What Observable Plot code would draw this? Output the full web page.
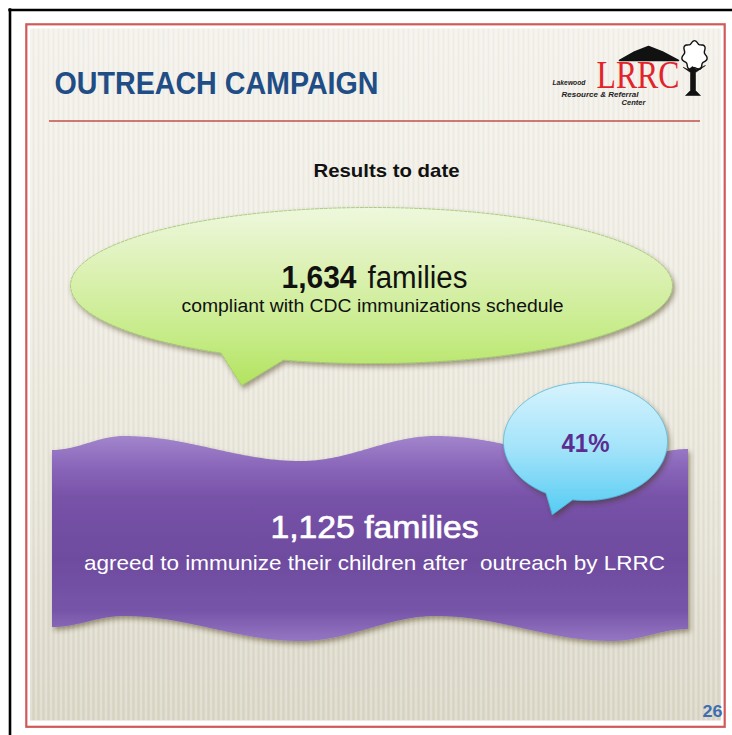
<!DOCTYPE html>
<html>
<head>
<meta charset="utf-8">
<script src="https://cdn.jsdelivr.net/npm/d3@7"></script>
<script src="https://cdn.jsdelivr.net/npm/@observablehq/plot@0.6"></script>
<style>
  html, body { margin: 0; padding: 0; background: #ffffff; }
  #chart svg { display: block; }
</style>
</head>
<body>
<div id="chart"></div>
<script>
// ---------- content (data) ----------
const slideTitle = ["OUTREACH CAMPAIGN"];
const sectionLabel = ["Results to date"];
const familyCounts = [1634, 1125];
const countUnits = ["families", "families"];
const countDescriptions = [
  "compliant with CDC immunizations schedule",
  "agreed to immunize their children after  outreach by LRRC"
];
const outreachSharePct = [41];
const pageNumber = ["26"];
const logoAcronym = ["LRRC"];
const logoWords = ["Lakewood", "Resource & Referral", "Center"];

// ---------- layout (geometry & style, not data) ----------
const W = 732, H = 735;
const fmt = d3.format(",");
const SANS = "'Liberation Sans', Arial, sans-serif";
const L = {
  blackFrame: 9.5,
  red: {x1: 26.3, x2: 724.7, y1: 24.3, y2: 726.8},
  slide: {x1: 30, x2: 721, y1: 28.5, y2: 720.5},
  rule: {x1: 49, x2: 700, y: 120.5},
  title: {x: 54, y: 93, size: 32, len: 324},
  section: {x: 386, y: 176, size: 19, len: 146},
  green: {cx: 371, cy: 285, rx: 301, ry: 78, a0: 107, a1: 120, tip: [241, 385]},
  blue: {cx: 585, cy: 441, rx: 82, ry: 59, a0: 99, a1: 119, tip: [552, 514]},
  waveTop: [[52,450],[124,436],[301,461],[436,436],[612,461],[688,449]],
  waveBottom: [[52,627],[124,616],[301,641],[436,616],[612,641],[688,629]],
  count1: {xNum: 356, xUnit: 367, y: 287, size: 31, lenNum: 75, lenUnit: 100},
  desc1: {x: 372, y: 311, size: 18, len: 382},
  count2: {x: 374, y: 537, size: 31, len: 208},
  desc2: {x: 374, y: 569, size: 21, len: 581},
  share: {x: 585, y: 451, size: 25, len: 48},
  page: {x: 722, y: 716, size: 17, len: 20}
};

function bubblePoints(b) {
  const pts = [];
  for (let a = b.a1; a <= b.a0 + 360; a += 1) {
    const t = a * Math.PI / 180;
    pts.push([b.cx + b.rx * Math.cos(t), b.cy + b.ry * Math.sin(t)]);
  }
  pts.push(b.tip);
  return pts;
}
function waveAt(knots, x) {
  for (let i = 0; i < knots.length - 1; i++) {
    const [x0, y0] = knots[i], [x1, y1] = knots[i + 1];
    if (x >= x0 && x <= x1) {
      const t = (x - x0) / (x1 - x0);
      const s = (1 - Math.cos(Math.PI * t)) / 2;
      return y0 + (y1 - y0) * s;
    }
  }
  return knots[knots.length - 1][1];
}
const waveXs = d3.range(L.waveTop[0][0], L.waveTop[L.waveTop.length - 1][0] + 0.001, 2);
const wave = waveXs.map(x => ({x, top: waveAt(L.waveTop, x), bottom: waveAt(L.waveBottom, x)}));

// tree canopy outline and trunk for logo
const canopy = d3.range(0, 360, 6).map(a => {
  const t = a * Math.PI / 180;
  const r = 11.5 + 1.4 * Math.sin(7 * t);
  return [694 + r * Math.cos(t), 55 + (r + 2) * Math.sin(t)];
});
const trunk = [[683,67],[690,72],[690,90],[685,95],[700,95],[695,90],[695,72],[705,65],[696,69],[692,66],[688,69]];
const roof = [[619,60],[634,51.5],[648,46],[662,51.5],[678,60]];

const marks = [
  // white page & black outer frame
  Plot.rect([0], {x1: 0, x2: W, y1: 0, y2: H, fill: "#ffffff"}),
  Plot.ruleX([L.blackFrame], {y1: L.blackFrame - 1.2, y2: H, stroke: "#000", strokeWidth: 2.6}),
  Plot.ruleY([L.blackFrame], {x1: L.blackFrame - 1.2, x2: W, stroke: "#000", strokeWidth: 2.6}),
  // red border
  Plot.rect([0], {x1: L.red.x1, x2: L.red.x2, y1: L.red.y1, y2: L.red.y2, fill: "none", stroke: "#d0595a", strokeWidth: 2.2}),
  // slide background
  Plot.rect([0], {x1: L.slide.x1, x2: L.slide.x2, y1: L.slide.y1, y2: L.slide.y2, fill: "url(#bgGrad)"}),
  Plot.rect([0], {x1: L.slide.x1, x2: L.slide.x2, y1: L.slide.y1, y2: L.slide.y2, fill: "url(#stripes)"}),
  // title & rule
  Plot.text(slideTitle, {x: L.title.x, y: L.title.y, text: d => d, textAnchor: "start", lineAnchor: "bottom",
    fill: "#204d85", fontSize: L.title.size, fontWeight: "bold", fontFamily: SANS, ariaDescription: "title"}),
  Plot.ruleY([L.rule.y], {x1: L.rule.x1, x2: L.rule.x2, stroke: "#c0504d", strokeWidth: 1.6}),
  // logo
  Plot.line(roof, {x: d => d[0], y: d => d[1], fill: "#111", stroke: "#111", curve: "linear-closed"}),
  Plot.text(logoAcronym, {x: 596, y: 87, text: d => d, textAnchor: "start", lineAnchor: "bottom", fill: "#e2232b",
    fontSize: 40, fontFamily: "'Liberation Serif', 'Times New Roman', serif", ariaDescription: "logoText"}),
  Plot.line(canopy, {x: d => d[0], y: d => d[1], fill: "#fff", stroke: "#111", strokeWidth: 1.4, curve: "catmull-rom-closed"}),
  Plot.line(trunk, {x: d => d[0], y: d => d[1], fill: "#111", stroke: "#111", strokeWidth: 0.6, curve: "linear-closed"}),
  Plot.text(logoWords, {x: (d, i) => [552, 561, 621][i], y: (d, i) => [84, 96, 104][i], text: d => d, textAnchor: "start",
    lineAnchor: "bottom", fill: "#222", fontSize: 6.5, fontWeight: "bold", fontStyle: "italic", fontFamily: SANS,
    ariaDescription: "logoWords"}),
  // section label
  Plot.text(sectionLabel, {x: L.section.x, y: L.section.y, text: d => d, lineAnchor: "bottom", fill: "#111",
    fontSize: L.section.size, fontWeight: "bold", fontFamily: SANS, ariaDescription: "section"}),
  // green speech bubble
  Plot.line(bubblePoints(L.green), {x: d => d[0], y: d => d[1], curve: "linear-closed", fill: "url(#greenGrad)",
    stroke: "#9cc46a", strokeWidth: 0.8, strokeDasharray: "3,1.5", ariaDescription: "greenBubble"}),
  Plot.text([familyCounts[0]], {x: L.count1.xNum, y: L.count1.y, text: d => fmt(d), textAnchor: "end", lineAnchor: "bottom",
    fill: "#111", fontSize: L.count1.size, fontWeight: "bold", fontFamily: SANS, ariaDescription: "count1num"}),
  Plot.text([countUnits[0]], {x: L.count1.xUnit, y: L.count1.y, text: d => d, textAnchor: "start", lineAnchor: "bottom",
    fill: "#111", fontSize: L.count1.size, fontFamily: SANS, ariaDescription: "count1unit"}),
  Plot.text([countDescriptions[0]], {x: L.desc1.x, y: L.desc1.y, text: d => d, lineAnchor: "bottom",
    fill: "#111", fontSize: L.desc1.size, fontFamily: SANS, ariaDescription: "desc1"}),
  // purple wave banner
  Plot.areaY(wave, {x: "x", y1: "top", y2: "bottom", fill: "url(#purpleGrad)", ariaDescription: "banner"}),
  Plot.text([familyCounts[1]], {x: L.count2.x, y: L.count2.y, text: d => `${fmt(d)} ${countUnits[1]}`, lineAnchor: "bottom",
    fill: "#ffffff", stroke: "#ffffff", strokeWidth: 0.7, fontSize: L.count2.size, fontFamily: SANS, ariaDescription: "count2"}),
  Plot.text([countDescriptions[1]], {x: L.desc2.x, y: L.desc2.y, text: d => d, lineAnchor: "bottom",
    fill: "#ffffff", fontSize: L.desc2.size, fontFamily: SANS, ariaDescription: "desc2"}),
  // blue speech bubble
  Plot.line(bubblePoints(L.blue), {x: d => d[0], y: d => d[1], curve: "linear-closed", fill: "url(#blueGrad)",
    stroke: "#4bb6d6", strokeWidth: 0.8, ariaDescription: "blueBubble"}),
  Plot.text(outreachSharePct, {x: L.share.x, y: L.share.y, text: d => `${d}%`, lineAnchor: "bottom",
    fill: "#5b2d90", fontSize: L.share.size, fontWeight: "bold", fontFamily: SANS, ariaDescription: "share"}),
  // page number
  Plot.text(pageNumber, {x: L.page.x, y: L.page.y, text: d => d, textAnchor: "end", lineAnchor: "bottom",
    fill: "#3f6eb0", fontSize: L.page.size, fontWeight: "bold", fontFamily: SANS, ariaDescription: "page"})
];

const chart = Plot.plot({
  width: W, height: H,
  margin: 0,
  x: {domain: [0, W], range: [0, W], axis: null},
  y: {domain: [0, H], range: [0, H], axis: null},
  style: {background: "#ffffff", overflow: "visible"},
  marks
});

// gradients, pattern and shadow filter
const svg = d3.select(chart);
const defs = svg.insert("defs", ":first-child");
function vGrad(id, stops) {
  const g = defs.append("linearGradient").attr("id", id).attr("x1", 0).attr("x2", 0).attr("y1", 0).attr("y2", 1);
  stops.forEach(([o, c]) => g.append("stop").attr("offset", o).attr("stop-color", c));
}
vGrad("bgGrad", [[0, "#f3f1ea"], [0.35, "#efece3"], [0.75, "#e4e1d4"], [1, "#d9d6c6"]]);
vGrad("greenGrad", [[0, "#eef8dd"], [0.35, "#dcf1b4"], [0.75, "#c4eb84"], [1, "#b3e35e"]]);
vGrad("blueGrad", [[0, "#d6f3fd"], [0.5, "#a3e3fa"], [1, "#55ccf3"]]);
vGrad("purpleGrad", [[0, "#a285cc"], [0.15, "#8a66ba"], [0.3, "#7752a8"], [0.6, "#6e4c9f"], [0.85, "#7654a8"], [1, "#9576c3"]]);
const pat = defs.append("pattern").attr("id", "stripes").attr("patternUnits", "userSpaceOnUse")
  .attr("width", 5).attr("height", 10);
pat.append("rect").attr("x", 0).attr("y", 0).attr("width", 2).attr("height", 10).attr("fill", "#ffffff").attr("opacity", 0.22);
pat.append("rect").attr("x", 3).attr("y", 0).attr("width", 1).attr("height", 10).attr("fill", "#8a8570").attr("opacity", 0.05);
const f = defs.append("filter").attr("id", "shadow").attr("x", "-10%").attr("y", "-10%").attr("width", "120%").attr("height", "130%");
f.append("feDropShadow").attr("dx", 2).attr("dy", 3).attr("stdDeviation", 2.5).attr("flood-color", "#3a2e10").attr("flood-opacity", 0.45);

const byDesc = k => svg.selectAll(`g[aria-description="${k}"]`);
["greenBubble", "banner", "blueBubble"].forEach(k => byDesc(k).attr("filter", "url(#shadow)"));

// fit text widths to the reference
const lens = {title: L.title.len, section: L.section.len, count1num: L.count1.lenNum, count1unit: L.count1.lenUnit,
  desc1: L.desc1.len, count2: L.count2.len, desc2: L.desc2.len, share: L.share.len, page: L.page.len, logoText: 83};
Object.entries(lens).forEach(([k, len]) =>
  byDesc(k).selectAll("text").attr("textLength", len).attr("lengthAdjust", "spacingAndGlyphs"));
byDesc("logoWords").selectAll("text").each(function(d, i) {
  d3.select(this).attr("textLength", [33, 77, 24][i]).attr("lengthAdjust", "spacingAndGlyphs");
});

document.getElementById("chart").appendChild(chart);
</script>
</body>
</html>
